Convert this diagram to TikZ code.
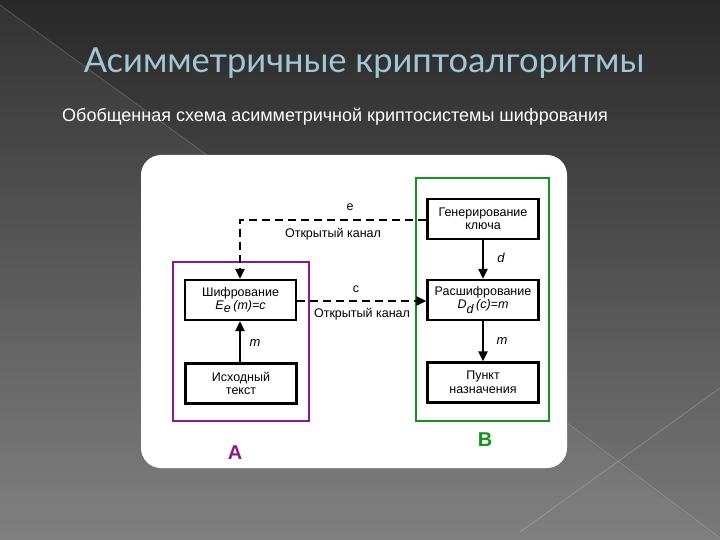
\documentclass[tikz,border=0pt]{standalone}
\usepackage{fontspec}
\setmainfont{Liberation Sans}
\newfontfamily\titlefont{Lato}
\usetikzlibrary{arrows.meta}
\definecolor{bgtop}{HTML}{282828}
\definecolor{bgbot}{HTML}{7A7A7A}
\definecolor{titlecol}{HTML}{A3C6D6}
\definecolor{purp}{HTML}{8B1A89}
\definecolor{grn}{HTML}{17911F}
\tikzset{
  blk/.style={draw=black, line width=2.4pt, fill=white, minimum width=111pt, minimum height=40pt, align=center, font=\fontsize{12.5}{13.5}\selectfont, inner sep=1pt},
  frame/.style={line width=1.7pt},
  sol/.style={line width=2.4pt, -{Triangle[length=10pt,width=9pt]}},
  dsh/.style={line width=2.4pt, dash pattern=on 8pt off 5pt, -{Triangle[length=10pt,width=9pt]}},
  lbl/.style={font=\fontsize{12.5}{13.5}\selectfont, inner sep=0pt},
  ilbl/.style={font=\fontsize{13}{14}\selectfont\itshape, inner sep=0pt}
}
\begin{document}
\begin{tikzpicture}[x=1pt,y=-1pt]
\useasboundingbox (0,0) rectangle (720,540);
\shade[top color=bgtop, bottom color=bgbot] (0,0) rectangle (720,540);
\fill[white, opacity=0.05] (0,5) -- (207,155) -- (720,540) -- (0,540) -- cycle;
\draw[white, opacity=0.18, line width=0.8pt] (0,5) -- (207,155);
\draw[white, opacity=0.2, line width=0.8pt] (720,388) -- (520,532);
\draw[white, opacity=0.2, line width=0.8pt] (567,423) -- (720,538);
% title
\node (title) [text=titlecol, font=\titlefont\fontsize{34.5}{37}\selectfont] at (364,63) {Асимметричные криптоалгоритмы};
\node (sub) [text=white, font=\fontsize{18}{20}\selectfont, anchor=west, inner sep=0pt] at (62,117) {Обобщенная схема асимметричной криптосистемы шифрования};
% panel
\fill[white, rounded corners=20pt] (141,155) rectangle (567,468);
% frames
\draw[frame, draw=purp] (173,262) rectangle (309,421);
\draw[frame, draw=grn] (416,178) rectangle (549,421);
% boxes
\node (gen) [blk] at (483,219) {Генерирование\\ключа};
\node (dec) [blk] at (483,300) {Расшифрование\\\textit{D}$_{\textit{d}}$\,\textit{(c)=m}};
\node (dst) [blk] at (483,382.5) {Пункт\\назначения};
\node (enc) [blk] at (240.5,300) {Шифрование\\\textit{E}$_{\textit{e}}$\,\textit{(m)=c}};
\node (src) [blk] at (241,383.5) {Исходный\\текст};
% connectors
\coordinate (corner) at (240,220);
\draw[dsh] (gen.west |- 0,220) -- (corner) -- (enc.north -| corner);
\draw[dsh] (enc.east |- 0,301) -- (dec.west |- 0,301);
\draw[sol] (gen) -- (dec);
\draw[sol] (dec) -- (dst);
\draw[sol] (src.north -| 240,0) -- (enc.south -| 240,0);
% labels
\node (le) [lbl] at (350,207) {e};
\node (lok1) [lbl] at (333,234) {Открытый канал};
\node (lc) [lbl] at (356,289) {c};
\node (lok2) [lbl] at (362,314) {Открытый канал};
\node (ld) [ilbl] at (501,258) {d};
\node (lm1) [ilbl] at (502,341) {m};
\node (lm2) [ilbl] at (255,343) {m};
\node (la) [text=purp, font=\bfseries\fontsize{20}{22}\selectfont] at (235,453) {A};
\node (lb) [text=grn, font=\bfseries\fontsize{20}{22}\selectfont] at (485,440) {B};
\end{tikzpicture}
\end{document}
